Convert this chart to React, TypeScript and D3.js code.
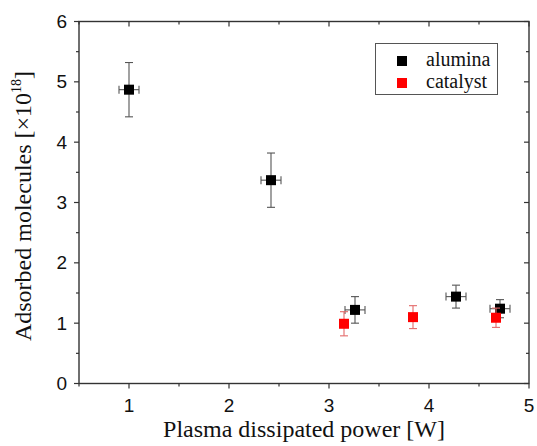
import React from "react";
import * as d3 from "d3";

const aluminaX = [1.0, 2.42, 3.26, 4.27, 4.71];
const aluminaY = [4.87, 3.37, 1.22, 1.44, 1.24];
const aluminaYErr = [0.45, 0.45, 0.22, 0.19, 0.15];
const aluminaXErr = [0.1, 0.1, 0.1, 0.1, 0.1];

const catalystX = [3.15, 3.84, 4.67];
const catalystY = [0.99, 1.1, 1.09];
const catalystYErr = [0.2, 0.19, 0.16];

const xTicks = [1, 2, 3, 4, 5];
const yTicks = [0, 1, 2, 3, 4, 5, 6];
const xMinor = [0.5, 1.5, 2.5, 3.5, 4.5];
const yMinor = [0.5, 1.5, 2.5, 3.5, 4.5, 5.5];

const seriesNames = ["alumina", "catalyst"];

export default function App() {
  const W = 537, H = 446;
  const left = 79, right = 529, top = 21.5, bottom = 383.5;
  const x = d3.scaleLinear().domain([0.5, 5]).range([left, right]);
  const y = d3.scaleLinear().domain([0, 6]).range([bottom, top]);
  const sans = "'Liberation Sans', Arial, sans-serif";
  const serif = "'Liberation Serif', 'Times New Roman', serif";
  const ms = 10;
  const cap = 4;
  const axisColor = "#333";

  return (
    <svg width={W} height={H} style={{ position: "absolute", left: 0, top: 0, background: "#fff" }}>
      <rect x={0} y={0} width={W} height={H} fill="#fff" />
      <rect x={left} y={top} width={right - left} height={bottom - top} fill="none" stroke={axisColor} strokeWidth={1.4} />
      {xTicks.map((t) => (
        <g key={"xt" + t}>
          <line x1={x(t)} x2={x(t)} y1={bottom} y2={bottom + 5} stroke={axisColor} strokeWidth={1.2} />
          <line x1={x(t)} x2={x(t)} y1={top} y2={top + 5} stroke={axisColor} strokeWidth={1.2} />
          <text x={x(t)} y={411.5} textAnchor="middle" fontFamily={sans} fontSize={19} fill="#111">{t}</text>
        </g>
      ))}
      {xMinor.map((t) => (
        <g key={"xm" + t}>
          <line x1={x(t)} x2={x(t)} y1={bottom} y2={bottom + 3} stroke={axisColor} strokeWidth={1.2} />
          <line x1={x(t)} x2={x(t)} y1={top} y2={top + 3} stroke={axisColor} strokeWidth={1.2} />
        </g>
      ))}
      {yTicks.map((t) => (
        <g key={"yt" + t}>
          <line x1={left - 5} x2={left} y1={y(t)} y2={y(t)} stroke={axisColor} strokeWidth={1.2} />
          <line x1={right - 5} x2={right} y1={y(t)} y2={y(t)} stroke={axisColor} strokeWidth={1.2} />
          <text x={67} y={y(t) + 6.6} textAnchor="end" fontFamily={sans} fontSize={19} fill="#111">{t}</text>
        </g>
      ))}
      {yMinor.map((t) => (
        <g key={"ym" + t}>
          <line x1={left - 3} x2={left} y1={y(t)} y2={y(t)} stroke={axisColor} strokeWidth={1.2} />
          <line x1={right - 3} x2={right} y1={y(t)} y2={y(t)} stroke={axisColor} strokeWidth={1.2} />
        </g>
      ))}
      {aluminaX.map((v, i) => {
        const cx = x(v), cy = y(aluminaY[i]);
        const y1 = y(aluminaY[i] + aluminaYErr[i]), y2 = y(aluminaY[i] - aluminaYErr[i]);
        const x1 = x(v - aluminaXErr[i]), x2 = x(v + aluminaXErr[i]);
        const c = "#555";
        return (
          <g key={"ae" + i} stroke={c} strokeWidth={1.1}>
            <line x1={cx} x2={cx} y1={y1} y2={y2} />
            <line x1={cx - cap} x2={cx + cap} y1={y1} y2={y1} />
            <line x1={cx - cap} x2={cx + cap} y1={y2} y2={y2} />
            <line x1={x1} x2={x2} y1={cy} y2={cy} />
            <line x1={x1} x2={x1} y1={cy - cap} y2={cy + cap} />
            <line x1={x2} x2={x2} y1={cy - cap} y2={cy + cap} />
          </g>
        );
      })}
      {aluminaX.map((v, i) => (
        <rect key={"am" + i} x={x(v) - ms / 2} y={y(aluminaY[i]) - ms / 2} width={ms} height={ms} fill="#000" />
      ))}
      {catalystX.map((v, i) => {
        const cx = x(v);
        const y1 = y(catalystY[i] + catalystYErr[i]), y2 = y(catalystY[i] - catalystYErr[i]);
        const c = "#e36a6a";
        return (
          <g key={"ce" + i} stroke={c} strokeWidth={1.1}>
            <line x1={cx} x2={cx} y1={y1} y2={y2} />
            <line x1={cx - cap} x2={cx + cap} y1={y1} y2={y1} />
            <line x1={cx - cap} x2={cx + cap} y1={y2} y2={y2} />
          </g>
        );
      })}
      {catalystX.map((v, i) => (
        <rect key={"cm" + i} x={x(v) - ms / 2} y={y(catalystY[i]) - ms / 2} width={ms} height={ms} fill="#ff0000" />
      ))}
      <rect x={375.5} y={43.5} width={122} height={51} fill="#fff" stroke="#555" strokeWidth={1} />
      <rect x={402 - 5} y={61 - 5} width={10} height={10} fill="#000" />
      <rect x={402 - 5} y={83 - 5} width={10} height={10} fill="#ff0000" />
      <text x={426} y={66} fontFamily={serif} fontSize={20} fill="#111">{seriesNames[0]}</text>
      <text x={426} y={88} fontFamily={serif} fontSize={20} fill="#111">{seriesNames[1]}</text>
      <text x={304} y={437} textAnchor="middle" fontFamily={serif} fontSize={24} fill="#111">
        Plasma dissipated power [W]
      </text>
      <text transform="translate(31,206) rotate(-90)" textAnchor="middle" fontFamily={serif} fontSize={24} fill="#111">
        Adsorbed molecules [×10
        <tspan fontSize={14} dy={-10}>18</tspan>
        <tspan dy={10}>]</tspan>
      </text>
    </svg>
  );
}
